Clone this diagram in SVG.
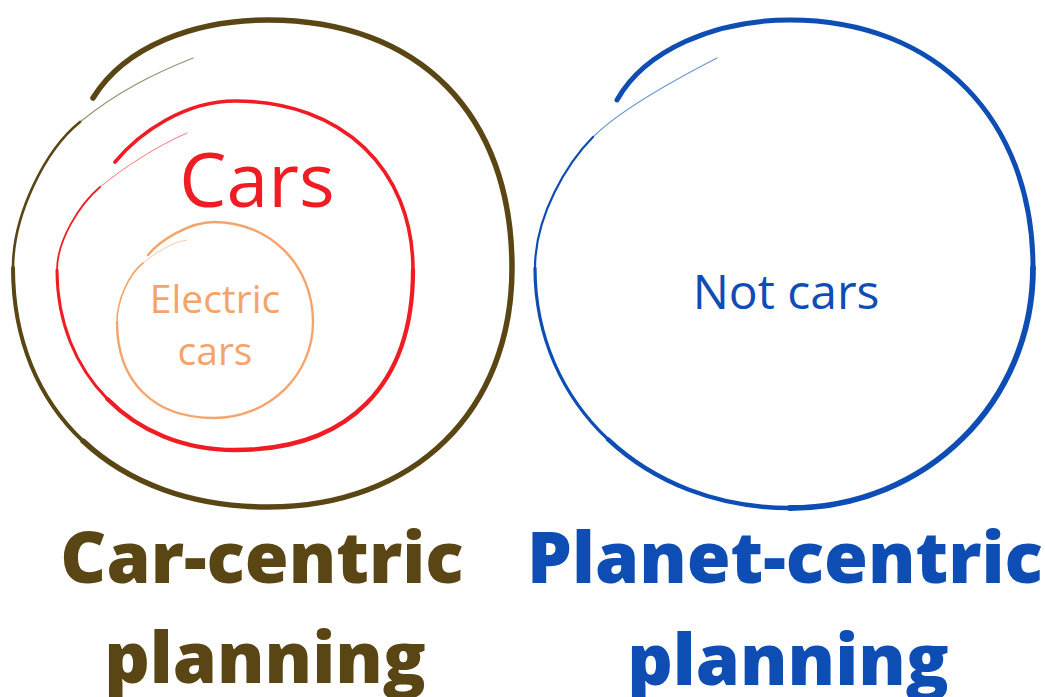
<svg xmlns="http://www.w3.org/2000/svg" width="1045" height="697" viewBox="0 0 1045 697">
<style>
.s{fill:none;stroke-linecap:round;stroke-linejoin:round}
.br{stroke:#5a4614}
.rd{stroke:#f01c24}
.or{stroke:#f4a46a}
.bl{stroke:#0e4db3}
.tail{opacity:0.6}
.t{font-family:"Open Sans","Noto Sans","Liberation Sans",sans-serif;text-anchor:middle}
.h{font-weight:800;font-size:71px}
</style>
<rect width="1045" height="697" fill="#ffffff"/>
<g id="car-centric">
<path class="s br" stroke-width="5.5" d="M93,98 C125,46 195,20 268,20 C419,20 512,114 512,268 C512,411 414,507 268,507 C191.5,507 127.75,483 83.1,441.1"/>
<path class="s br" stroke-width="4" d="M83.1,441.1 C38.5,399.25 13,339.5 13,268"/>
<path class="s br" stroke-width="2.6" d="M13,268 C13,215 45,150 80,122"/>
<path class="s br tail" stroke-width="1.3" d="M80,122 C117,92 153,74 193,58"/>
<text class="t h" x="262" y="583" fill="#5a4614">Car-centric</text>
<text class="t h" x="265" y="683" fill="#5a4614">planning</text>
</g>
<g id="cars">
<path class="s rd" stroke-width="3.6" d="M115,162 C140,132 185,101 235,101 C342,101 413,169 413,270"/>
<path class="s rd" stroke-width="4.3" d="M413,270 C413,385 349,450 235,450 C183.5,450 139,431 107.4,399"/>
<path class="s rd" stroke-width="3" d="M107.4,399 C75.75,367 57,322 57,270"/>
<path class="s rd" stroke-width="1.8" d="M57,270 C57,240 80,204 100,187"/>
<path class="s rd tail" stroke-width="1" d="M100,187 C124,167 159,145 187,133"/>
<text class="t" x="257" y="207" font-size="75" fill="#f01c24">Cars</text>
</g>
<g id="electric-cars">
<path class="s or" stroke-width="2.4" d="M148,255 C160,240 190,222 214,222 C270,222 313,265 313,322 C313,375 269,418 214,418 C154,418 117,382 117,322"/>
<path class="s or" stroke-width="1.6" d="M117,322 C117,300 129,274 143,263"/>
<path class="s or tail" stroke-width="1" d="M143,263 C157,252 172,242 187,240"/>
<text class="t" x="215" y="313" font-size="39" fill="#f4a46a">Electric</text>
<text class="t" x="215" y="365" font-size="39" fill="#f4a46a">cars</text>
</g>
<g id="planet-centric">
<path class="s bl" stroke-width="5" d="M617,100 C645,50 715,20 790,20 C936,20 1033,119 1033,268"/>
<path class="s bl" stroke-width="5.8" d="M1033,268 C1033,402 926,508 790,508"/>
<path class="s bl" stroke-width="4.5" d="M790,508 C717.5,508 653.75,482.25 608.1,439.4"/>
<path class="s bl" stroke-width="3.2" d="M608.1,439.4 C562.5,396.5 535,336.5 535,268"/>
<path class="s bl" stroke-width="2.2" d="M535,268 C535,215 568,162 593,137"/>
<path class="s bl tail" stroke-width="1.2" d="M593,137 C620,110 682,76 717,58"/>
<text class="t" x="786" y="309" font-size="48" fill="#0e4db3">Not cars</text>
<text class="t h" x="785" y="583" fill="#0e4db3">Planet-centric</text>
<text class="t h" x="788" y="685" fill="#0e4db3">planning</text>
</g>
</svg>
